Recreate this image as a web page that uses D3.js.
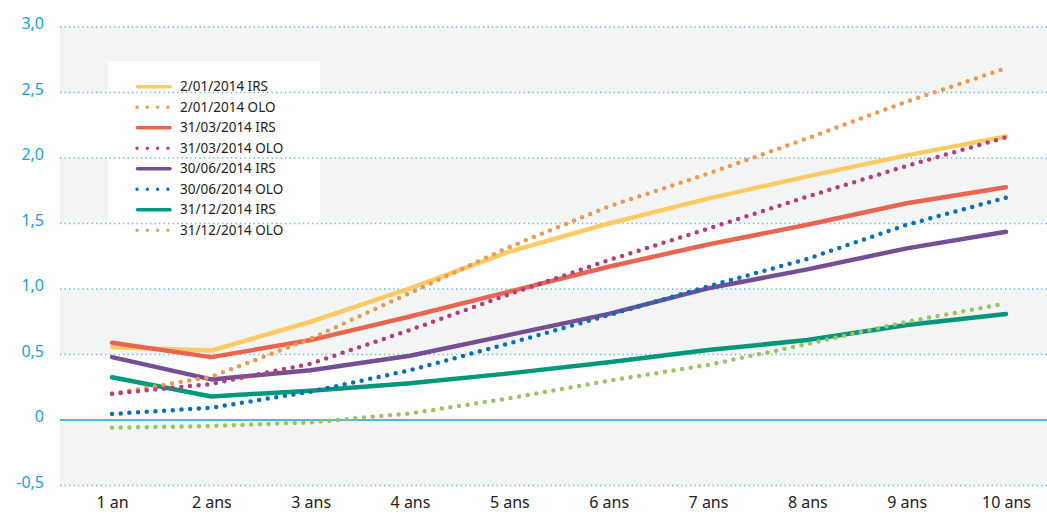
<!DOCTYPE html>
<html><head><meta charset="utf-8">
<script src="https://cdn.jsdelivr.net/npm/d3@7"></script>
<style>
html,body{margin:0;padding:0;background:#fff;}
svg{display:block;font-family:"Noto Sans",sans-serif;}
</style></head>
<body><svg id="c" width="1047" height="515"></svg>
<script>
const categories = ["1 an","2 ans","3 ans","4 ans","5 ans","6 ans","7 ans","8 ans","9 ans","10 ans"];
const yTicks = [-0.5,0,0.5,1.0,1.5,2.0,2.5,3.0];
const yTickLabels = ["-0,5","0","0,5","1,0","1,5","2,0","2,5","3,0"];

const irs_20140102 = [0.555,0.53,0.75,1.005,1.285,1.50,1.69,1.86,2.02,2.165];
const olo_20140102 = [0.20,0.33,0.62,0.97,1.32,1.63,1.88,2.15,2.43,2.685];
const irs_20140331 = [0.59,0.48,0.61,0.79,0.98,1.17,1.34,1.49,1.655,1.776];
const olo_20140331 = [0.20,0.275,0.43,0.687,0.96,1.22,1.46,1.705,1.94,2.158];
const irs_20140630 = [0.48,0.31,0.38,0.49,0.65,0.81,1.005,1.15,1.31,1.437];
const olo_20140630 = [0.046,0.094,0.216,0.38,0.585,0.80,1.02,1.23,1.49,1.697];
const irs_20141231 = [0.326,0.18,0.224,0.28,0.356,0.44,0.534,0.61,0.725,0.81];
const olo_20141231 = [-0.059,-0.046,-0.018,0.05,0.166,0.30,0.42,0.58,0.75,0.89];

const seriesNames = ["2/01/2014 IRS","2/01/2014 OLO","31/03/2014 IRS","31/03/2014 OLO","30/06/2014 IRS","30/06/2014 OLO","31/12/2014 IRS","31/12/2014 OLO"];
const seriesValues = [irs_20140102,olo_20140102,irs_20140331,olo_20140331,irs_20140630,olo_20140630,irs_20141231,olo_20141231];
const seriesColors = ["#FCCB63","#F1984F","#E8654F","#B43F7C","#754E93","#0A70B6","#00977B","#9CC465"];
const seriesDotted = [false,true,false,true,false,true,false,true];

const svg = d3.select("#c");
const plotL = 60, plotR = 1047;
const x = d3.scalePoint().domain(categories).range([112,1006]);
const y = d3.scaleLinear().domain([-0.5,3.0]).range([485.5,27]);

// background bands
const bands = [[2.5,3.0],[1.5,2.0],[0.5,1.0],[-0.5,0]];
svg.append("g").selectAll("rect").data(bands).join("rect")
  .attr("x",plotL).attr("width",plotR-plotL)
  .attr("y",d=>y(d[1])).attr("height",d=>y(d[0])-y(d[1]))
  .attr("fill","#F3F5F5");

// legend white box (drawn over bands)
svg.append("rect").attr("x",108).attr("y",61).attr("width",212).attr("height",y(1.5)-61).attr("fill","#fff");

// gridlines
svg.append("g").selectAll("line").data(yTicks.filter(v=>v!==0)).join("line")
  .attr("x1",plotL).attr("x2",plotR).attr("y1",d=>y(d)).attr("y2",d=>y(d))
  .attr("stroke","#5DB9E2").attr("stroke-width",1.3).attr("stroke-dasharray","1.3,3.2");
svg.append("line").attr("x1",plotL).attr("x2",plotR).attr("y1",y(0)).attr("y2",y(0))
  .attr("stroke","#1A9FD9").attr("stroke-width",1.5);

// y axis labels
const yAxis = d3.axisLeft(y).tickValues(yTicks).tickFormat((d,i)=>yTickLabels[i]).tickSize(0).tickPadding(0);
const gy = svg.append("g").attr("transform","translate(44,-3.5)").call(yAxis);
gy.select(".domain").remove();
gy.selectAll("text").attr("fill","#1BA1DB").style("font-size","16px").style("font-family","'Noto Sans',sans-serif");

// x axis labels
const xAxis = d3.axisBottom(x).tickSize(0).tickPadding(0);
const gx = svg.append("g").attr("transform","translate(0,497)").call(xAxis);
gx.select(".domain").remove();
gx.selectAll("text").attr("fill","#222").style("font-size","16px").style("font-family","'Noto Sans',sans-serif");

// lines
const line = d3.line().x((d,i)=>x(categories[i])).y(d=>y(d));
const order = [0,2,4,6,1,3,5,7];
order.forEach(k=>{
  const p = svg.append("path").datum(seriesValues[k]).attr("d",line)
    .attr("fill","none").attr("stroke",seriesColors[k]).attr("stroke-linecap","round").attr("stroke-linejoin","round");
  if(seriesDotted[k]) p.attr("stroke-width",4.5).attr("stroke-dasharray","0,8.7");
  else p.attr("stroke-width",4.5);
});

// legend
const lg = svg.append("g");
seriesNames.forEach((n,i)=>{
  const yy = 86.7 + i*20.5;
  if(seriesDotted[i]){
    lg.append("line").attr("x1",137).attr("x2",168).attr("y1",yy).attr("y2",yy)
      .attr("stroke",seriesColors[i]).attr("stroke-width",3.4).attr("stroke-linecap","round").attr("stroke-dasharray","0,10.3");
  } else {
    lg.append("line").attr("x1",137.5).attr("x2",170).attr("y1",yy).attr("y2",yy)
      .attr("stroke",seriesColors[i]).attr("stroke-width",3.6).attr("stroke-linecap","round");
  }
  lg.append("text").attr("x",180).attr("y",yy).attr("dy","0.35em").text(n)
    .attr("fill","#222").style("font-size","13.5px");
});
</script></body></html>
